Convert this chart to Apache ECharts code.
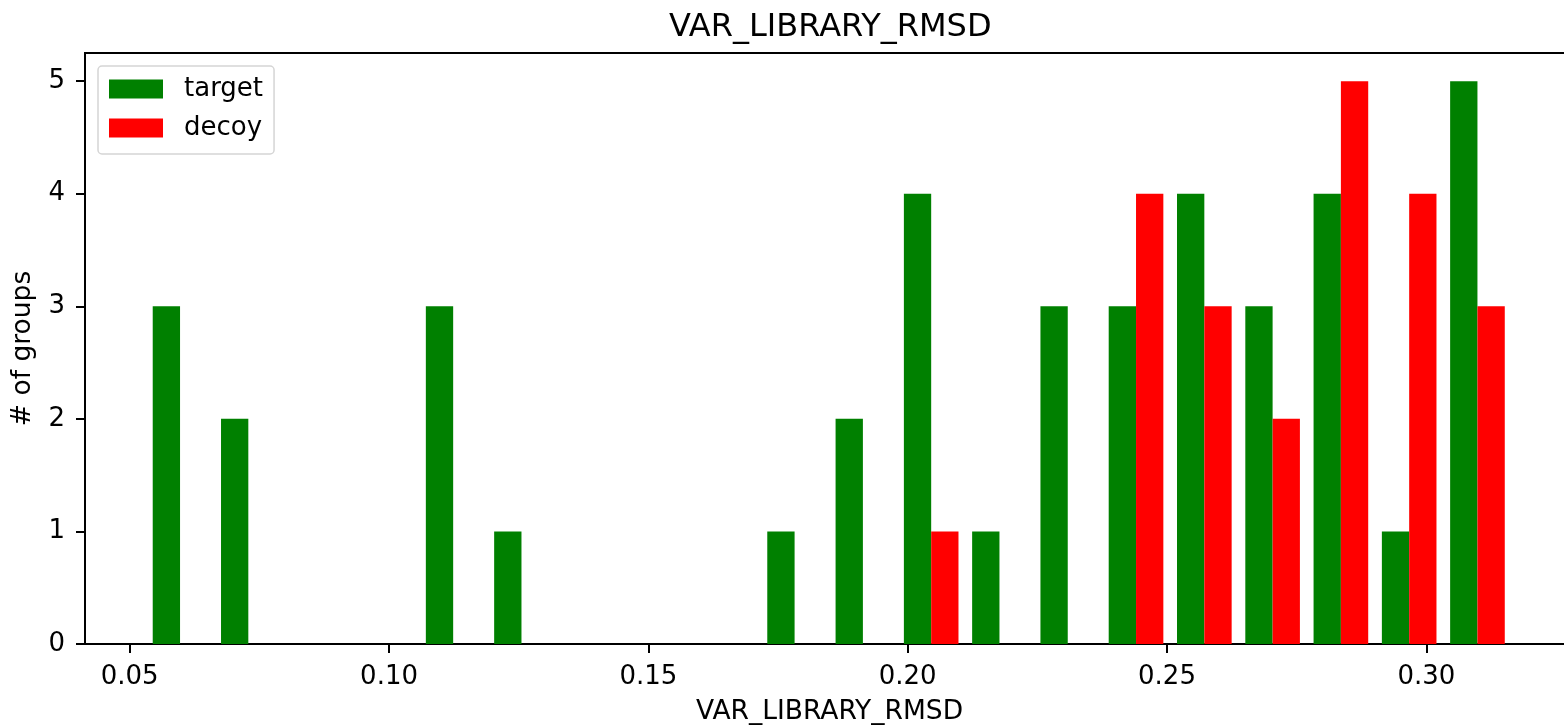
<!DOCTYPE html>
<html>
<head>
<meta charset="utf-8">
<script src="https://cdn.jsdelivr.net/npm/echarts@6/dist/echarts.min.js"></script>
<style>
    html,body{margin:0;padding:0;background:#fff;overflow:hidden;}
    /* plot area runs past the right edge of the picture, like the reference */
    #chart{width:1574px;height:727px;}
</style>
</head>
<body>
<div id="chart"></div>
<script>
    // histogram bin edges (20 bins)
    var binEdges = [0.05312, 0.06629, 0.07945, 0.09262, 0.10578, 0.11895, 0.13212,
        0.14528, 0.15845, 0.17161, 0.18478, 0.19795, 0.21111, 0.22428, 0.23744,
        0.25061, 0.26378, 0.27694, 0.29011, 0.30327, 0.31644];
    var targetCounts = [3, 2, 0, 0, 3, 1, 0, 0, 0, 1, 2, 4, 1, 3, 3, 4, 3, 4, 1, 5];
    var decoyCounts  = [0, 0, 0, 0, 0, 0, 0, 0, 0, 0, 0, 1, 0, 0, 4, 3, 2, 5, 4, 3];
    var xTicks = [0.05, 0.10, 0.15, 0.20, 0.25, 0.30];
    var yTicks = [0, 1, 2, 3, 4, 5];

    var FONT = 'DejaVu Sans';

    //build [binStart, binEnd, count]
    function toBins(counts){
        var out = [];
        for (var i = 0; i < counts.length; i++) {
            out.push([binEdges[i], binEdges[i + 1], counts[i]]);
        }
        return out;
    }

    // slot: 0 = left half, 1 = right half of the 80% bar area
    function makeRender(slot){
        return function (params, api) {
            var x0 = api.value(0), x1 = api.value(1), h = api.value(2);
            if (!h) return;
            var w = x1 - x0;
            var left = x0 + w * 0.1 + slot * w * 0.4;
            var right = left + w * 0.4;
            var p0 = api.coord([left, h]);
            var p1 = api.coord([right, 0]);
            return {
                type: 'rect',
                shape: {x: p0[0], y: p0[1], width: p1[0] - p0[0], height: p1[1] - p0[1]},
                style: {fill: api.visual('color')}
            };
        };
    }

    var myChart = echarts.init(document.getElementById('chart'));
    var option = {
        animation: false,
        textStyle: {fontFamily: FONT},
        title: {
            text: 'VAR_LIBRARY_RMSD',
            left: 664,
            top: 7,
            textStyle: {fontFamily: FONT, fontSize: 32, fontWeight: 'normal', color: '#000'}
        },
        legend: {
            left: 98,
            top: 66,
            orient: 'vertical',
            icon: 'rect',
            itemWidth: 54,
            itemHeight: 19,
            itemGap: 13,
            padding: [10, 11, 13, 11],
            borderColor: '#d5d5d5',
            borderWidth: 1.5,
            borderRadius: 4,
            backgroundColor: 'rgba(255,255,255,0.8)',
            textStyle: {fontFamily: FONT, fontSize: 26, color: '#000', padding: [0, 0, 0, 16], lineHeight: 26},
            data: ['target', 'decoy']
        },
        grid: {
            left: 85,
            right: 0,
            top: 53,
            bottom: 83,
            outerBoundsMode: 'none',
            show: true,
            borderColor: '#000',
            borderWidth: 2,
            backgroundColor: 'transparent'
        },
        xAxis: {
            type: 'value',
            min: 0.04138,
            max: 0.32847,
            name: 'VAR_LIBRARY_RMSD',
            nameLocation: 'middle',
            nameGap: 55,
            nameTextStyle: {fontFamily: FONT, fontSize: 26.5, color: '#000'},
            axisLine: {show: true, lineStyle: {color: '#000', width: 2}},
            axisTick: {show: true, length: 9, lineStyle: {color: '#000', width: 2}, customValues: xTicks},
            axisLabel: {
                fontFamily: FONT, fontSize: 26, color: '#000', margin: 20,
                customValues: xTicks,
                formatter: function (v) { return v.toFixed(2); }
            },
            splitLine: {show: false}
        },
        yAxis: {
            type: 'value',
            min: 0,
            max: 5.25,
            name: '# of groups',
            nameLocation: 'middle',
            nameGap: 48,
            nameTextStyle: {fontFamily: FONT, fontSize: 26.5, color: '#000'},
            axisLine: {show: true, lineStyle: {color: '#000', width: 2}},
            axisTick: {show: true, length: 9, lineStyle: {color: '#000', width: 2}, customValues: yTicks},
            axisLabel: {
                fontFamily: FONT, fontSize: 26, color: '#000', margin: 20,
                customValues: yTicks
            },
            splitLine: {show: false}
        },
        series: [
            {
                name: 'target',
                type: 'custom',
                itemStyle: {color: '#008000'},
                encode: {x: [0, 1], y: 2},
                renderItem: makeRender(0),
                data: toBins(targetCounts)
            },
            {
                name: 'decoy',
                type: 'custom',
                itemStyle: {color: '#ff0000'},
                encode: {x: [0, 1], y: 2},
                renderItem: makeRender(1),
                data: toBins(decoyCounts)
            }
        ]
    };
    myChart.setOption(option);
</script>
</body>
</html>
